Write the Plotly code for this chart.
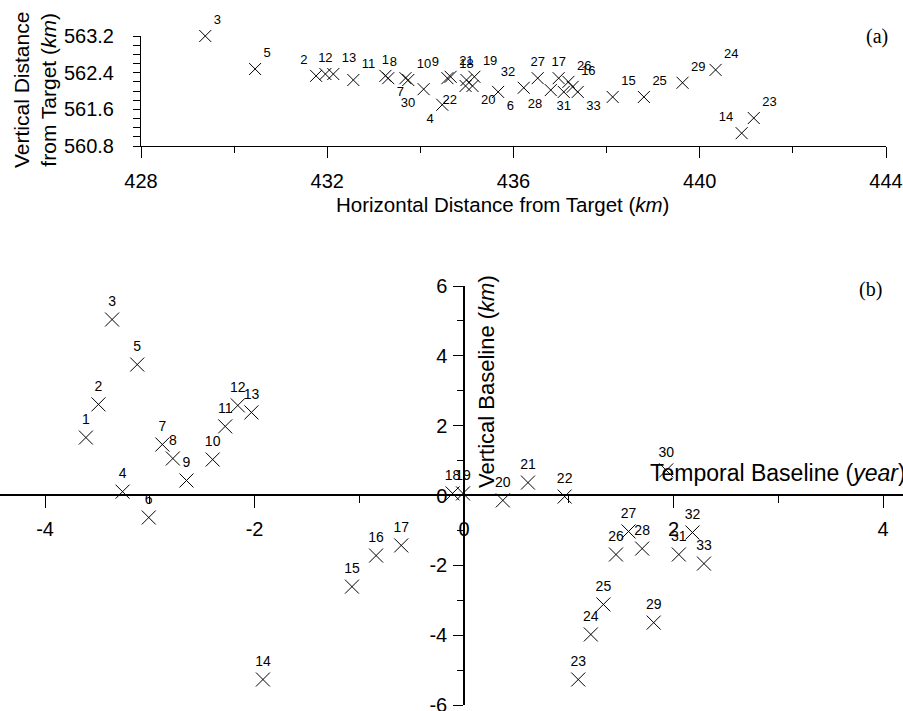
import plotly.graph_objects as go

W, H = 903, 711

ids = [str(i) for i in range(1, 34)]

# Panel (a): position relative to target
horiz_km = [433.25, 431.76, 429.38, 434.47, 430.45, 435.67, 433.31, 433.68, 434.58, 433.74,
            432.56, 431.96, 432.13, 440.90, 438.13, 437.27, 436.97, 434.99, 435.16, 435.12,
            434.65, 434.97, 441.16, 440.34, 438.80, 437.18, 436.52, 436.80, 439.63, 434.07,
            437.08, 436.22, 437.38]
vert_km = [562.33, 562.33, 563.20, 561.70, 562.48, 561.98, 562.28, 562.28, 562.28, 562.24,
           562.24, 562.37, 562.37, 561.08, 561.87, 562.09, 562.28, 562.24, 562.31, 562.11,
           562.31, 562.11, 561.41, 562.46, 561.87, 562.20, 562.28, 562.02, 562.18, 562.04,
           561.98, 562.07, 561.98]
label_pos_a = ["top center", "top left", "top right", "bottom left", "top right", "bottom right",
               "bottom right", "top left", "top left", "top right", "top right", "top center",
               "top right", "top left", "top right", "top right", "top center", "top center",
               "top right", "bottom right", "top right", "bottom left", "top right", "top right",
               "top right", "top right", "top center", "bottom left", "top right", "bottom left",
               "bottom center", "top left", "bottom right"]

# Panel (b): baselines
temporal_yr = [-3.61, -3.49, -3.36, -3.26, -3.12, -3.01, -2.88, -2.78, -2.65, -2.40,
               -2.28, -2.16, -2.03, -1.92, -1.07, -0.84, -0.60, -0.11, -0.01, 0.37,
               0.61, 0.96, 1.09, 1.21, 1.33, 1.45, 1.57, 1.70, 1.81, 1.93,
               2.05, 2.18, 2.29]
vbase_km = [1.66, 2.61, 5.04, 0.11, 3.75, -0.63, 1.46, 1.06, 0.43, 1.03,
            1.98, 2.58, 2.38, -5.27, -2.61, -1.72, -1.43, 0.06, 0.06, -0.14,
            0.37, -0.03, -5.27, -3.98, -3.12, -1.69, -1.03, -1.52, -3.64, 0.72,
            -1.69, -1.06, -1.95]

a_xticks = [428, 432, 436, 440, 444]
a_yticks = [560.8, 561.6, 562.4, 563.2]
b_xticks = [-4, -2, 0, 2, 4]
b_yticks = [-6, -4, -2, 0, 2, 4, 6]

SANS = "Liberation Sans, Arial, sans-serif"
SERIF = "Liberation Serif, Times New Roman, serif"


def px(x):
    return x / W


def py(y):
    return 1 - y / H


fig = go.Figure()

fig.add_trace(go.Scatter(
    x=horiz_km, y=vert_km, mode="markers+text", text=ids, textposition=label_pos_a,
    marker=dict(symbol="x-thin-open", size=12, color="black", line=dict(color="black", width=1)),
    textfont=dict(family=SANS, size=13, color="black"),
    cliponaxis=False, xaxis="x", yaxis="y", showlegend=False, hoverinfo="skip"))

fig.add_trace(go.Scatter(
    x=temporal_yr, y=vbase_km, mode="markers+text", text=ids, textposition="top center",
    marker=dict(symbol="x-thin-open", size=14, color="black", line=dict(color="black", width=1)),
    textfont=dict(family=SANS, size=14, color="black"),
    cliponaxis=False, xaxis="x2", yaxis="y2", showlegend=False, hoverinfo="skip"))

tickfont = dict(family=SANS, size=20, color="black")

fig.update_layout(
    template="none",
    width=W, height=H,
    margin=dict(l=0, r=0, t=0, b=0, pad=0),
    paper_bgcolor="white", plot_bgcolor="white",
    showlegend=False,
    xaxis=dict(domain=[px(141), px(886)], range=[428, 444], anchor="y", automargin=False,
               showgrid=False, zeroline=False, showline=True, linecolor="black", linewidth=1,
               tickmode="array", tickvals=a_xticks, ticktext=[str(v) for v in a_xticks],
               ticks="outside", ticklen=11, tickcolor="black", tickfont=tickfont,
               ticklabelstandoff=6, ticklabeloverflow="allow",
               minor=dict(dtick=2, tick0=428, ticks="outside", ticklen=6, tickcolor="black")),
    yaxis=dict(domain=[py(146), py(36)], range=[560.8, 563.2], anchor="x", automargin=False,
               showgrid=False, zeroline=False, showline=True, linecolor="black", linewidth=1,
               tickmode="array", tickvals=a_yticks, ticktext=[f"{v:.1f}" for v in a_yticks],
               ticks="outside", ticklen=7, tickcolor="black", tickfont=tickfont,
               ticklabelstandoff=15, ticklabeloverflow="allow",
               minor=dict(dtick=0.2, tick0=560.8, ticks="outside", ticklen=7, tickcolor="black")),
    xaxis2=dict(domain=[0, 1], range=[-4.43, 4.19], anchor="free", position=py(495),
                automargin=False,
                showgrid=False, zeroline=False, showline=True, linecolor="black", linewidth=1.5,
                tickmode="array", tickvals=b_xticks, ticktext=[str(v) for v in b_xticks],
                ticks="outside", ticklen=12, tickcolor="black", tickfont=tickfont,
                ticklabelstandoff=4, ticklabeloverflow="allow",
                minor=dict(dtick=1, tick0=0, ticks="outside", ticklen=7, tickcolor="black")),
    yaxis2=dict(domain=[py(705), py(286)], range=[-6, 6], anchor="free", position=px(464),
                automargin=False,
                showgrid=False, zeroline=False, showline=True, linecolor="black", linewidth=1.5,
                tickmode="array", tickvals=b_yticks, ticktext=[str(v) for v in b_yticks],
                ticks="outside", ticklen=10, tickcolor="black", tickfont=tickfont,
                ticklabelstandoff=2, ticklabeloverflow="allow",
                minor=dict(dtick=1, tick0=0, ticks="outside", ticklen=6, tickcolor="black")),
)

annots = [
    dict(x=px(502), y=py(204), text="Horizontal Distance from Target (<i>km</i>)",
         font=dict(family=SANS, size=20.5, color="black")),
    dict(x=px(35), y=py(90), text="Vertical Distance<br>from Target (<i>km</i>)", textangle=-90,
         font=dict(family=SANS, size=21, color="black")),
    dict(x=px(487), y=py(382), text="Vertical Baseline (<i>km</i>)", textangle=-90,
         font=dict(family=SANS, size=22, color="black")),
    dict(x=px(648), y=py(473), text="Temporal Baseline (<i>year</i>)", xanchor="left",
         font=dict(family=SANS, size=23, color="black")),
    dict(x=px(877), y=py(36), text="(a)", font=dict(family=SERIF, size=20, color="black")),
    dict(x=px(870), y=py(289), text="(b)", font=dict(family=SERIF, size=20, color="black")),
]
for a in annots:
    a.setdefault("xanchor", "center")
    a.update(xref="paper", yref="paper", yanchor="middle", showarrow=False)
    fig.add_annotation(**a)

fig.write_html("out.html", config={"displayModeBar": False},
               post_script="document.body.style.margin='0';")
